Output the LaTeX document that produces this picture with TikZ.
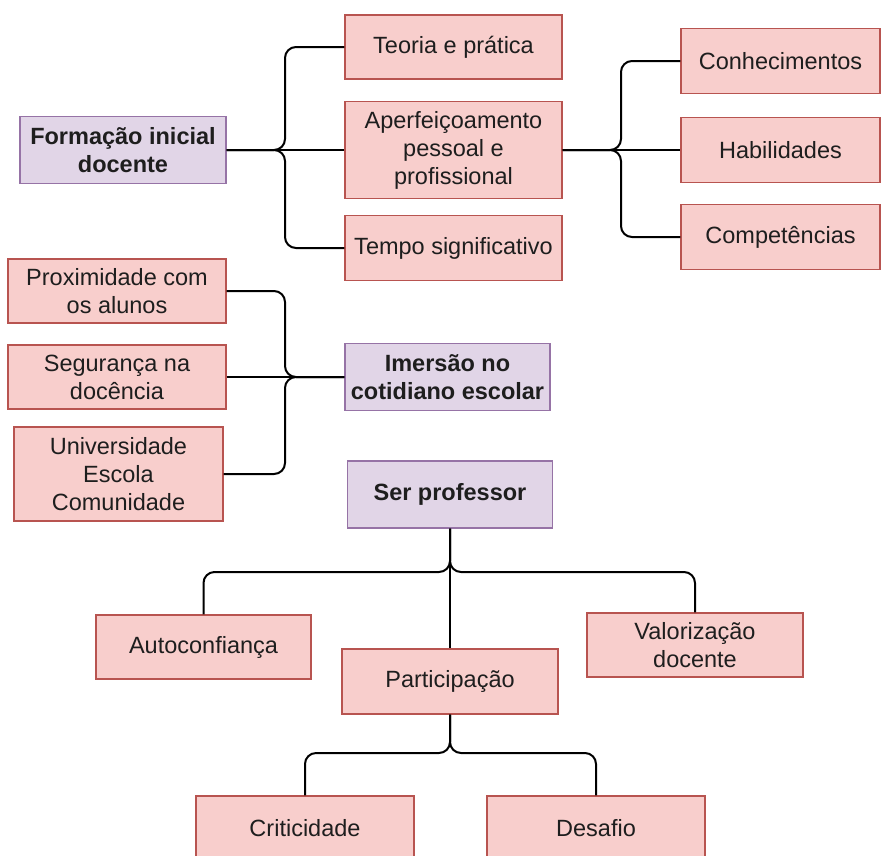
\documentclass[tikz,border=0pt]{standalone}
\usepackage{fontspec}
\setmainfont{Liberation Sans}
\definecolor{redfill}{HTML}{F8CECC}
\definecolor{redline}{HTML}{B85450}
\definecolor{purfill}{HTML}{E1D5E7}
\definecolor{purline}{HTML}{9673A6}
\definecolor{ink}{HTML}{1E1E1E}
\tikzset{
  box/.style={draw=redline, fill=redfill, line width=1.4pt, inner sep=0pt,
    align=center, text=ink, font=\fontsize{23.5}{28}\selectfont},
  keybox/.style={box, draw=purline, fill=purfill, font=\fontsize{23.5}{28}\selectfont\bfseries},
  conn/.style={draw=black, line width=2pt, rounded corners=11pt},
}
\begin{document}
\begin{tikzpicture}[x=1pt, y=-1pt]
\clip (0,0) rectangle (885,855);
\fill[white] (0,0) rectangle (885,855);

% first branch
\node[keybox, minimum width=206pt, minimum height=67pt] (fid) at (123,150) {Formação inicial\\docente};
\node[box, minimum width=217pt, minimum height=64pt] (tp) at (453.5,47) {Teoria e prática};
\node[box, minimum width=217pt, minimum height=97pt] (ap) at (453.5,150) {Aperfeiçoamento\\pessoal e\\profissional};
\node[box, minimum width=217pt, minimum height=65pt] (ts) at (453.5,248) {Tempo significativo};
\node[box, minimum width=199pt, minimum height=65pt] (co) at (780.5,61) {Conhecimentos};
\node[box, minimum width=199pt, minimum height=65pt] (ha) at (780.5,150) {Habilidades};
\node[box, minimum width=199pt, minimum height=65pt] (ce) at (780.5,237) {Competências};

% second branch
\node[box, minimum width=218pt, minimum height=64pt] (px) at (117,291) {Proximidade com\\os alunos};
\node[box, minimum width=218pt, minimum height=64pt] (sg) at (117,377) {Segurança na\\docência};
\node[box, minimum width=209pt, minimum height=94pt] (un) at (118.5,474) {Universidade\\Escola\\Comunidade};
\node[keybox, minimum width=205pt, minimum height=67pt] (im) at (447.5,377) {Imersão no\\cotidiano escolar};

% third branch
\node[keybox, minimum width=205pt, minimum height=67pt] (sp) at (450,494.5) {Ser professor};
\node[box, minimum width=215pt, minimum height=64pt] (ac) at (203.5,647) {Autoconfiança};
\node[box, minimum width=216pt, minimum height=65pt] (pa) at (450,681.5) {Participação};
\node[box, minimum width=216pt, minimum height=64pt] (vd) at (695,645) {Valorização\\docente};
\node[box, minimum width=218pt, minimum height=64pt] (cr) at (305,828) {Criticidade};
\node[box, minimum width=218pt, minimum height=64pt] (de) at (596,828) {Desafio};

% junction points of the brace-shaped connectors
\coordinate (j1) at (285,150);
\coordinate (j3) at (621,150);
\coordinate (j2) at (285,377);
\coordinate (j4) at (450,572);
\coordinate (j5) at (450,753);

% connectors
\draw[conn] (fid.east) -- (j1) |- (tp.west);
\draw[conn] (fid.east) -- (ap.west);
\draw[conn] (fid.east) -- (j1) |- (ts.west);

\draw[conn] (ap.east) -- (j3) |- (co.west);
\draw[conn] (ap.east) -- (ha.west);
\draw[conn] (ap.east) -- (j3) |- (ce.west);

\draw[conn] (px.east) -| (j2) -- (im.west);
\draw[conn] (sg.east) -- (im.west);
\draw[conn] (un.east) -| (j2) -- (im.west);

\draw[conn] (sp.south) -- (j4) -| (ac.north);
\draw[conn] (sp.south) -- (pa.north);
\draw[conn] (sp.south) -- (j4) -| (vd.north);

\draw[conn] (pa.south) -- (j5) -| (cr.north);
\draw[conn] (pa.south) -- (j5) -| (de.north);
\end{tikzpicture}
\end{document}
